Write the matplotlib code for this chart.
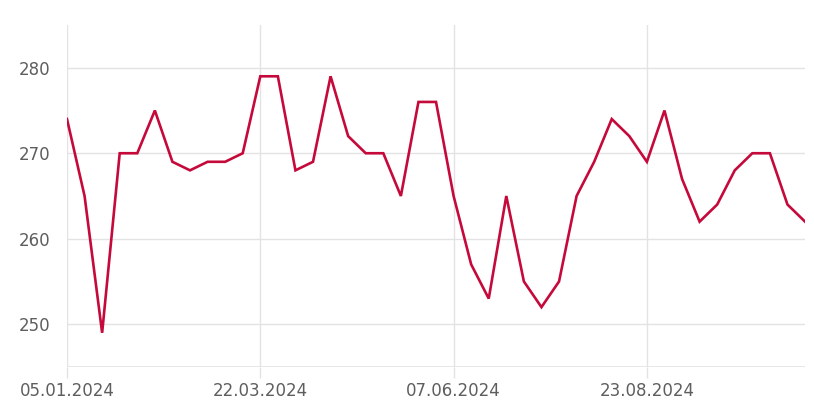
import numpy as np
import matplotlib.pyplot as plt
import matplotlib.dates as mdates

start = np.datetime64('2024-01-05')
werte = [274, 265, 249, 270, 270, 275, 269, 268, 269, 269, 270,
         279, 279, 268, 269, 279, 272, 270, 270, 265, 276, 276,
         265, 257, 253, 265, 255, 252, 255, 265, 269, 274, 272,
         269, 275, 267, 262, 264, 268, 270, 270, 264, 262]
daten = start + np.arange(len(werte)) * np.timedelta64(7, 'D')
tick_daten = ['2024-01-05', '2024-03-22', '2024-06-07', '2024-08-23']
y_ticks = [250, 260, 270, 280]

plt.rcParams['font.family'] = ['DejaVu Sans']

fig = plt.figure(figsize=(8.14, 4.09), dpi=100)
ax = fig.add_axes([0.0823, 0.1027, 0.9067, 0.8362])

x = daten.astype('datetime64[D]').astype(object)
ax.plot(x, werte, color='#c6093b', lw=1.9, solid_joinstyle='miter', zorder=3)

ax.set_xlim(x[0], x[-1])
ax.set_ylim(245, 285)
ax.set_yticks(y_ticks)
ax.set_xticks([np.datetime64(d).astype(object) for d in tick_daten])
ax.xaxis.set_major_formatter(mdates.DateFormatter('%d.%m.%Y'))

for s in ax.spines.values():
    s.set_visible(False)
ax.grid(True, color='#e3e3e3', lw=1)
ax.axhline(245, color='#e3e3e3', lw=1.2, zorder=1)
ax.tick_params(axis='x', length=8, color='#e3e3e3', width=1, pad=3,
               labelsize=12, labelcolor='#5e5e5e')
ax.tick_params(axis='y', length=0, pad=12, labelsize=12, labelcolor='#5e5e5e')

fig.savefig('out.png', dpi=100)
